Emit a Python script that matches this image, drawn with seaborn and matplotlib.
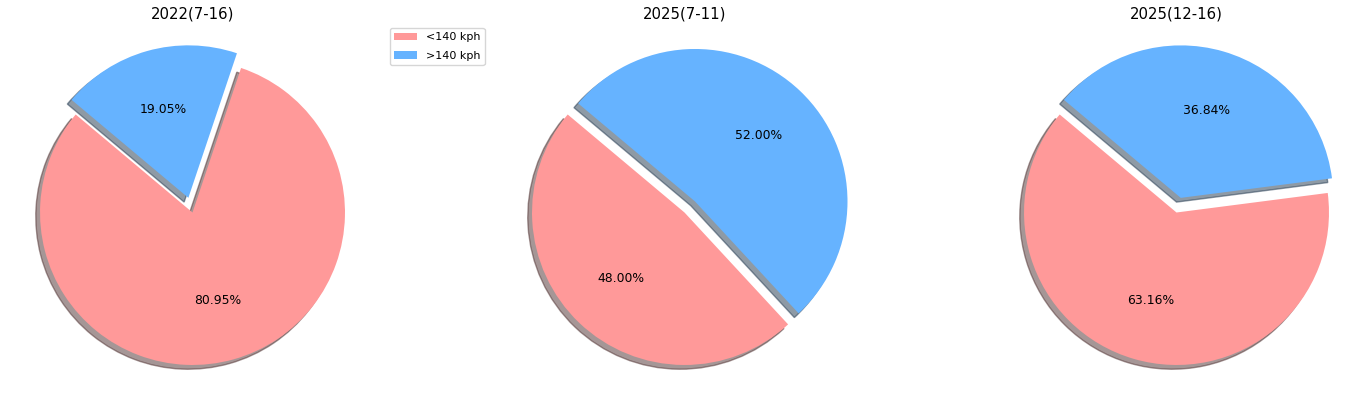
import matplotlib
matplotlib.use("Agg")
import matplotlib.pyplot as plt
import seaborn as sns

sns.reset_orig()
plt.rcParams['font.family'] = ['DejaVu Sans']

titles = ["2022(7-16)", "2025(7-11)", "2025(12-16)"]
labels = ["<140 kph", ">140 kph"]
slow_counts = [17, 12, 12]
fast_counts = [4, 13, 7]
colors = ["#ff9999", "#66b3ff"]
explode = (0, 0.1)

fig = plt.figure(figsize=(13.47, 4.08), dpi=100)
W, H = 1347, 408
centers_x = [192.5, 684.5, 1176.5]
center_y = 408 - 212.5
half = 190.6
axes = []
for cx in centers_x:
    ax = fig.add_axes([(cx - half) / W, (center_y - half) / H, 2 * half / W, 2 * half / H])
    axes.append(ax)

for ax, t, s, f in zip(axes, titles, slow_counts, fast_counts):
    wedges, texts, autotexts = ax.pie([s, f], explode=explode, colors=colors,
                                      autopct='%1.2f%%', shadow=True, startangle=140,
                                      textprops={'fontsize': 8.9, 'color': 'black'})
    ax.set_title(t, fontsize=10.7, pad=1.5, color='black')
    ax.set_aspect('equal')

axes[0].legend(wedges, labels, loc='upper left', bbox_to_anchor=(390 / W, 1 - 28 / H),
               bbox_transform=fig.transFigure, borderaxespad=0, fontsize=8,
               labelspacing=0.75, frameon=True)

fig.savefig("out.png", dpi=100, facecolor="white")
